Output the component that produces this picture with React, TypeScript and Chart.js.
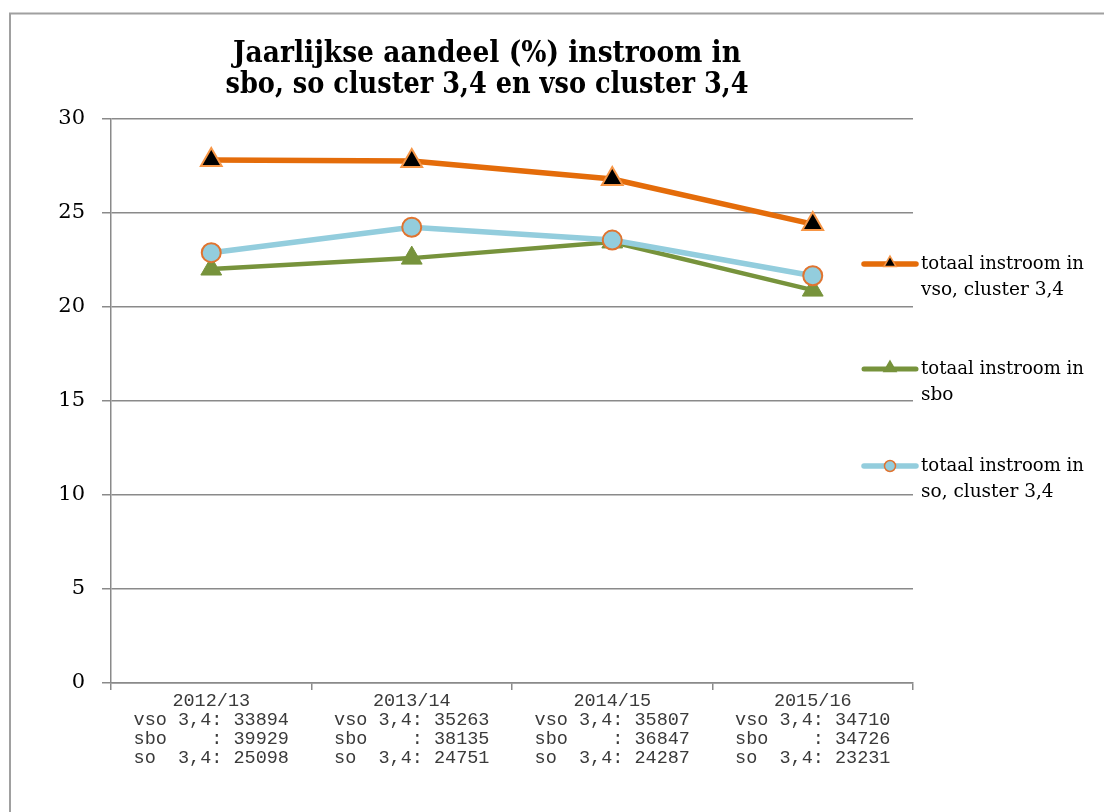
import React, { useEffect, useRef } from 'react';
import { Chart, registerables } from 'chart.js';

Chart.register(...registerables);

const years = ['2012/13', '2013/14', '2014/15', '2015/16'];
const vsoCounts = ['33894', '35263', '35807', '34710'];
const sboCounts = ['39929', '38135', '36847', '34726'];
const soCounts = ['25098', '24751', '24287', '23231'];

const vsoShare = [27.82, 27.77, 26.81, 24.41];
const sboShare = [22.02, 22.6, 23.46, 20.9];
const soShare = [22.89, 24.24, 23.56, 21.66];

const yMin = 0;
const yMax = 30;
const yStep = 5;

const titleLines = ['Jaarlijkse aandeel (%) instroom in', 'sbo, so cluster 3,4 en vso cluster 3,4'];
const legendVso = ['totaal instroom in', 'vso, cluster 3,4'];
const legendSbo = ['totaal instroom in', 'sbo'];
const legendSo = ['totaal instroom in', 'so, cluster 3,4'];

const ORANGE = '#E46C0A';
const ORANGE_LIGHT = '#F79646';
const GREEN = '#77933C';
const BLUE = '#93CDDD';
const CIRCLE_EDGE = '#E07430';
const GRID = '#8a8a8a';

const xLabels = years.map((y, i) => [
  y,
  `vso 3,4: ${vsoCounts[i]}`,
  `sbo    : ${sboCounts[i]}`,
  `so  3,4: ${soCounts[i]}`,
]);

function drawTriangle(ctx: CanvasRenderingContext2D, x: number, y: number, r: number, fill: string, stroke: string, lw: number) {
  ctx.beginPath();
  ctx.moveTo(x, y - r);
  ctx.lineTo(x + r * 0.866, y + r * 0.5);
  ctx.lineTo(x - r * 0.866, y + r * 0.5);
  ctx.closePath();
  ctx.fillStyle = fill;
  ctx.fill();
  ctx.lineWidth = lw;
  ctx.strokeStyle = stroke;
  ctx.stroke();
}

const decorPlugin = {
  id: 'decor',
  afterDraw(chart: any) {
    const ctx: CanvasRenderingContext2D = chart.ctx;
    ctx.save();
    // outer frame (top & left visible)
    ctx.strokeStyle = '#a0a0a0';
    ctx.lineWidth = 2;
    ctx.beginPath();
    ctx.moveTo(10, 812);
    ctx.lineTo(10, 13.5);
    ctx.lineTo(1104, 13.5);
    ctx.stroke();

    // title
    ctx.fillStyle = '#000';
    ctx.textAlign = 'center';
    ctx.textBaseline = 'alphabetic';
    ctx.font = 'bold 30px "DejaVu Serif"';
    ctx.fillText(titleLines[0], 487, 62, 508);
    ctx.fillText(titleLines[1], 487, 93, 523);

    // legend
    const items = [
      { lines: legendVso, y: 264, color: ORANGE, lw: 5.5, marker: 'tri', fill: '#000', edge: ORANGE_LIGHT },
      { lines: legendSbo, y: 369, color: GREEN, lw: 5, marker: 'tri', fill: GREEN, edge: GREEN },
      { lines: legendSo, y: 466, color: BLUE, lw: 5.5, marker: 'circle', fill: BLUE, edge: CIRCLE_EDGE },
    ];
    items.forEach((it) => {
      ctx.strokeStyle = it.color;
      ctx.lineWidth = it.lw;
      ctx.lineCap = 'round';
      ctx.beginPath();
      ctx.moveTo(864, it.y);
      ctx.lineTo(916, it.y);
      ctx.stroke();
      ctx.lineCap = 'butt';
      if (it.marker === 'tri') {
        drawTriangle(ctx, 890, it.y - 1, 7, it.fill, it.edge, 1.5);
      } else {
        ctx.beginPath();
        ctx.arc(890, it.y, 5.5, 0, Math.PI * 2);
        ctx.fillStyle = it.fill;
        ctx.fill();
        ctx.lineWidth = 1.5;
        ctx.strokeStyle = it.edge;
        ctx.stroke();
      }
      ctx.fillStyle = '#000';
      ctx.textAlign = 'left';
      ctx.textBaseline = 'middle';
      ctx.font = '18.5px "DejaVu Serif"';
      it.lines.forEach((t, k) => ctx.fillText(t, 921, it.y + k * 26, 163));
    });
    ctx.restore();
  },
};

export default function App() {
  const ref = useRef<HTMLCanvasElement | null>(null);

  useEffect(() => {
    if (!ref.current) return;
    const chart = new Chart(ref.current, {
      type: 'line',
      data: {
        labels: xLabels,
        datasets: [
          {
            label: legendVso.join(' '),
            data: vsoShare,
            borderColor: ORANGE,
            borderWidth: 5.5,
            pointStyle: 'triangle',
            pointRadius: 12,
            pointBackgroundColor: '#000',
            pointBorderColor: ORANGE_LIGHT,
            pointBorderWidth: 2,
            tension: 0,
            order: 0,
          },
          {
            label: legendSbo.join(' '),
            data: sboShare,
            borderColor: GREEN,
            borderWidth: 4.5,
            pointStyle: 'triangle',
            pointRadius: 12,
            pointBackgroundColor: GREEN,
            pointBorderColor: GREEN,
            pointBorderWidth: 1,
            tension: 0,
            order: 2,
          },
          {
            label: legendSo.join(' '),
            data: soShare,
            borderColor: BLUE,
            borderWidth: 5.5,
            pointStyle: 'circle',
            pointRadius: 9.5,
            pointBackgroundColor: BLUE,
            pointBorderColor: CIRCLE_EDGE,
            pointBorderWidth: 2,
            tension: 0,
            order: 1,
          },
        ],
      },
      options: {
        responsive: false,
        animation: false,
        layout: { padding: { left: 0, top: 119, right: 191, bottom: 0 } },
        plugins: {
          legend: { display: false },
          title: { display: false },
          tooltip: { enabled: false },
        },
        scales: {
          x: {
            offset: true,
            grid: {
              display: true,
              offset: true,
              drawOnChartArea: false,
              drawTicks: true,
              tickLength: 7,
              color: GRID,
              lineWidth: 1.5,
            },
            border: { color: GRID, width: 1.5 },
            ticks: {
              autoSkip: false,
              maxRotation: 0,
              minRotation: 0,
              padding: 2,
              color: '#3a3a3a',
              font: { family: '"Liberation Mono"', size: 18.5, lineHeight: '19px' },
            },
            afterFit: (scale: any) => {
              scale.height = 812 - 683;
            },
          },
          y: {
            min: yMin,
            max: yMax,
            ticks: {
              stepSize: yStep,
              padding: 17,
              color: '#000',
              font: { family: '"DejaVu Serif"', size: 21 },
            },
            grid: {
              color: GRID,
              lineWidth: 1.5,
              tickLength: 9,
            },
            border: { color: GRID, width: 1.5 },
            afterFit: (scale: any) => {
              scale.width = 111;
            },
          },
        },
      },
      plugins: [decorPlugin],
    });
    return () => chart.destroy();
  }, []);

  return (
    <div style={{ position: 'absolute', left: 0, top: 0, width: 1104, height: 812, background: '#fff' }}>
      <canvas ref={ref} width={1104} height={812} style={{ display: 'block' }} />
    </div>
  );
}
